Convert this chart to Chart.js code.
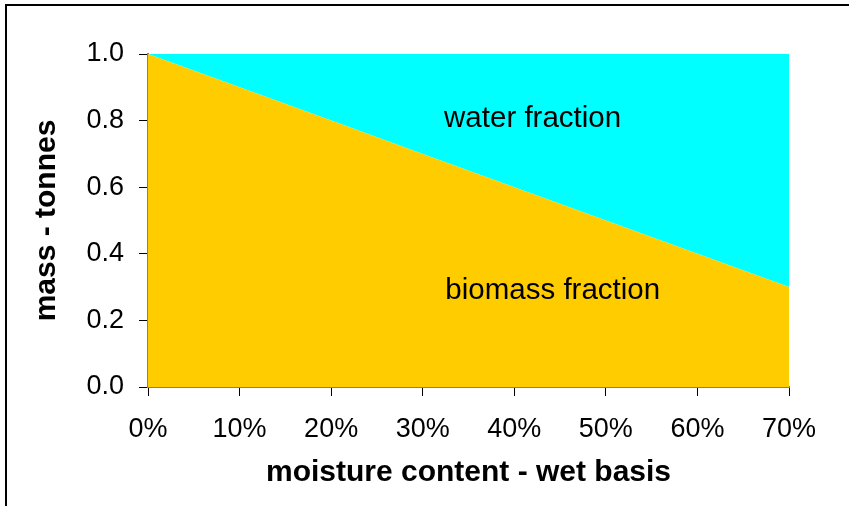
<!DOCTYPE html>
<html>
<head>
<meta charset="utf-8">
<script src="https://cdn.jsdelivr.net/npm/chart.js@4/dist/chart.umd.min.js"></script>
<style>
  body { margin: 0; background: #fff; }
  #wrap { width: 849px; height: 506px; }
</style>
</head>
<body>
<div id="wrap"><canvas id="massChart" width="849" height="506"></canvas></div>
<script>
// moisture content (% wet basis) and the two mass fractions per tonne
const moisture = [0, 10, 20, 30, 40, 50, 60, 70];
const biomass = [1.0, 0.9, 0.8, 0.7, 0.6, 0.5, 0.4, 0.3];
const water = [0.0, 0.1, 0.2, 0.3, 0.4, 0.5, 0.6, 0.7];
const yTicks = [0, 0.2, 0.4, 0.6, 0.8, 1.0];

// in-chart labels, placed in data units
const areaLabels = [
    { text: 'water fraction', x: 42, y: 0.805 },
    { text: 'biomass fraction', x: 44.2, y: 0.29 }
];

const frameAndLabels = {
    id: 'frameAndLabels',
    beforeDraw(chart) {
        const ctx = chart.ctx;
        ctx.save();
        ctx.strokeStyle = '#000';
        ctx.lineWidth = 2;
        ctx.beginPath();
        ctx.moveTo(6, 520);
        ctx.lineTo(6, 5);
        ctx.lineTo(860, 5);
        ctx.stroke();
        ctx.restore();
    },
    afterDatasetsDraw(chart) {
        const ctx = chart.ctx;
        const xs = chart.scales.x, ys = chart.scales.y;
        ctx.save();
        ctx.font = '29.5px "Liberation Sans", Arial, sans-serif';
        ctx.fillStyle = '#000';
        ctx.textAlign = 'center';
        ctx.textBaseline = 'middle';
        areaLabels.forEach(l => {
            ctx.fillText(l.text, xs.getPixelForValue(l.x), ys.getPixelForValue(l.y));
        });
        ctx.restore();
    }
};

const ctx = document.getElementById('massChart').getContext('2d');
new Chart(ctx, {
    type: 'line',
    data: {
        datasets: [{
            label: 'biomass fraction',
            data: moisture.map((m, i) => ({ x: m, y: biomass[i] })),
            backgroundColor: '#FFCC00',
            borderWidth: 0,
            pointRadius: 0,
            fill: 'origin'
        }, {
            label: 'water fraction',
            data: moisture.map((m, i) => ({ x: m, y: water[i] })),
            backgroundColor: '#00FFFF',
            borderWidth: 0,
            pointRadius: 0,
            fill: '-1'
        }]
    },
    options: {
        responsive: false,
        animation: false,
        layout: { padding: { left: 29, top: 54, right: 60, bottom: 15 } },
        plugins: { legend: { display: false }, tooltip: { enabled: false } },
        scales: {
            x: {
                type: 'linear',
                min: 0,
                max: 70,
                afterFit(scale) { scale.height = 104; },
                afterBuildTicks(scale) { scale.ticks = moisture.map(v => ({ value: v })); },
                ticks: {
                    callback: v => v + '%',
                    color: '#000',
                    padding: 17,
                    maxRotation: 0,
                    font: { family: '"Liberation Sans", Arial, sans-serif', size: 27 }
                },
                grid: { drawOnChartArea: false, tickLength: 9, color: '#000' },
                border: { color: '#808080', width: 2 },
                title: {
                    display: true,
                    text: 'moisture content - wet basis',
                    color: '#000',
                    padding: 0,
                    font: { family: '"Liberation Sans", Arial, sans-serif', size: 30, weight: 'bold' }
                }
            },
            y: {
                stacked: true,
                min: 0,
                max: 1,
                afterFit(scale) { scale.width = 119; },
                afterBuildTicks(scale) { scale.ticks = yTicks.map(v => ({ value: v })); },
                ticks: {
                    callback: v => v.toFixed(1),
                    color: '#000',
                    padding: 15,
                    font: { family: '"Liberation Sans", Arial, sans-serif', size: 27 }
                },
                grid: { drawOnChartArea: false, tickLength: 9, color: '#000' },
                border: { color: '#808080', width: 2 },
                title: {
                    display: true,
                    text: 'mass - tonnes',
                    color: '#000',
                    padding: 0,
                    font: { family: '"Liberation Sans", Arial, sans-serif', size: 30, weight: 'bold' }
                }
            }
        }
    },
    plugins: [frameAndLabels]
});
</script>
</body>
</html>
